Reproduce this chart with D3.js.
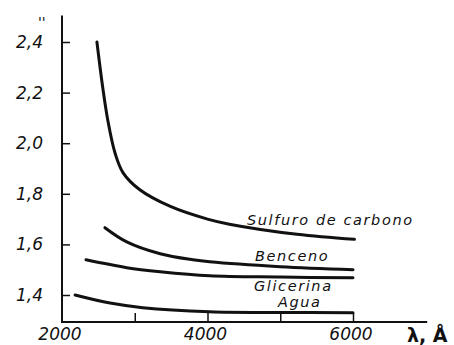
<!DOCTYPE html>
<html>
<head>
<meta charset="utf-8">
<script src="https://cdn.jsdelivr.net/npm/d3@7"></script>
<style>
  body { margin: 0; background: #fff; }
  text { font-family: "DejaVu Sans", sans-serif; font-style: italic; fill: #111; }
</style>
</head>
<body>
<svg id="chart" width="454" height="345"></svg>
<script>
// refractive index n vs wavelength (Angstrom)
const lambdaCS2 = [2480, 2560, 2630, 2730, 2840, 3070, 3490, 4000, 4300, 5230, 6020];
const nCS2      = [2.40, 2.22, 2.09, 1.96, 1.883, 1.816, 1.75, 1.70, 1.68, 1.64, 1.62];

const lambdaBenceno = [2590, 2890, 3350, 3800, 4030, 5000, 6000];
const nBenceno      = [1.666, 1.61, 1.563, 1.539, 1.531, 1.512, 1.50];

const lambdaGlicerina = [2330, 2890, 3350, 4030, 5000, 6000];
const nGlicerina      = [1.539, 1.508, 1.492, 1.476, 1.471, 1.468];

const lambdaAgua = [2180, 2660, 3110, 4030, 5000, 6000];
const nAgua      = [1.40, 1.368, 1.35, 1.334, 1.331, 1.330];

const yTicks = [1.4, 1.6, 1.8, 2.0, 2.2, 2.4];
const xTicks = [3000, 4000, 5000, 6000];
const xLabels = [2000, 4000, 6000];

const curveNames = ["Sulfuro de carbono", "Benceno", "Glicerina", "Agua"];

const svg = d3.select("#chart");

const x = d3.scaleLinear().domain([2000, 6000]).range([62, 353]);
const y = d3.scaleLinear().domain([1.4, 2.4]).range([295, 42]);

const xEnd = 7020, yBottom = 1.293, yTop = 2.505;

// axes lines
svg.append("line")
  .attr("x1", x(2000)).attr("x2", x(2000))
  .attr("y1", y(yBottom)).attr("y2", y(yTop))
  .attr("stroke", "#111").attr("stroke-width", 2);
svg.append("line")
  .attr("x1", x(2000) - 1).attr("x2", x(xEnd))
  .attr("y1", y(yBottom)).attr("y2", y(yBottom))
  .attr("stroke", "#111").attr("stroke-width", 2);

// y axis ticks (pointing inward) + labels
const yAxis = d3.axisLeft(y)
  .tickValues(yTicks)
  .tickSize(-8)
  .tickPadding(19)
  .tickFormat(d => d3.format(".1f")(d).replace(".", ","));
const gy = svg.append("g")
  .attr("transform", "translate(" + x(2000) + ",0)")
  .call(yAxis);
gy.select(".domain").remove();
gy.selectAll(".tick line").attr("stroke", "#111").attr("stroke-width", 1.5);
gy.selectAll(".tick text")
  .attr("font-size", 17).attr("font-family", null).style("font-style", "italic")
  .attr("fill", "#111");

// x axis ticks (pointing up)
const xAxis = d3.axisBottom(x)
  .tickValues(xTicks)
  .tickSize(-9)
  .tickFormat("");
const gx = svg.append("g")
  .attr("transform", "translate(0," + y(yBottom) + ")")
  .call(xAxis);
gx.select(".domain").remove();
gx.selectAll(".tick line").attr("stroke", "#111").attr("stroke-width", 1.5);

svg.selectAll("text.xlab")
  .data(xLabels)
  .join("text")
  .attr("class", "xlab")
  .attr("x", d => x(d) - 2)
  .attr("y", 340)
  .attr("text-anchor", "middle")
  .attr("font-size", 17)
  .text(d => d);

svg.append("text")
  .attr("x", 407).attr("y", 342)
  .attr("font-size", 19)
  .style("font-style", "normal")
  .attr("font-weight", "bold")
  .text("λ, Å");

svg.append("text")
  .attr("x", 38).attr("y", 27)
  .attr("font-size", 14)
  .text("''");

// curves
const line = d3.line()
  .x(d => x(d[0]))
  .y(d => y(d[1]))
  .curve(d3.curveCatmullRom.alpha(0.5));

const series = [
  d3.zip(lambdaCS2, nCS2),
  d3.zip(lambdaBenceno, nBenceno),
  d3.zip(lambdaGlicerina, nGlicerina),
  d3.zip(lambdaAgua, nAgua)
];

svg.selectAll("path.curve")
  .data(series)
  .join("path")
  .attr("class", "curve")
  .attr("d", line)
  .attr("fill", "none")
  .attr("stroke", "#111")
  .attr("stroke-width", 3)
  .attr("stroke-linecap", "round");

// curve labels
const labelPos = [[4543, 1.675], [4653, 1.534], [4639, 1.416], [4969, 1.351]];
svg.selectAll("text.name")
  .data(curveNames)
  .join("text")
  .attr("class", "name")
  .attr("x", (d, i) => x(labelPos[i][0]))
  .attr("y", (d, i) => y(labelPos[i][1]))
  .attr("font-size", 14.5)
  .attr("letter-spacing", 1.6)
  .text(d => d);
</script>
</body>
</html>
